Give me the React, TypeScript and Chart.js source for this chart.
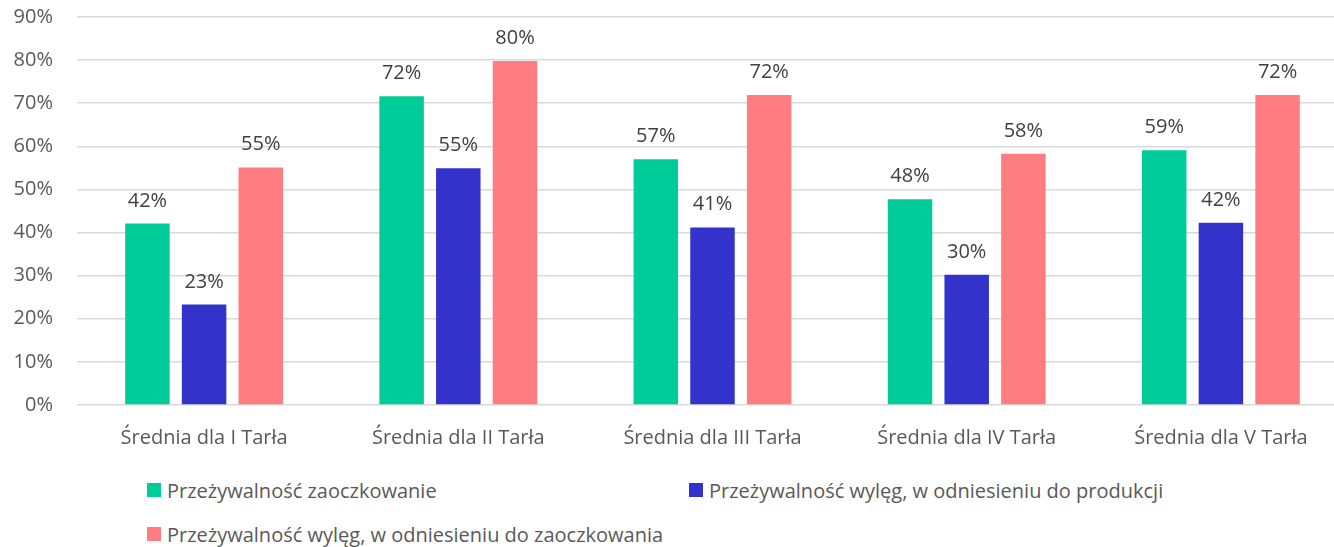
import React, { useEffect, useRef } from "react";
import { Chart, registerables } from "chart.js";

Chart.register(...registerables);

const categories = [
  "Średnia dla I Tarła",
  "Średnia dla II Tarła",
  "Średnia dla III Tarła",
  "Średnia dla IV Tarła",
  "Średnia dla V Tarła",
];
const seriesNames = [
  "Przeżywalność zaoczkowanie",
  "Przeżywalność wylęg, w odniesieniu do produkcji",
  "Przeżywalność wylęg, w odniesieniu do zaoczkowania",
];
const zaoczkowanie = [42.1, 71.6, 57.0, 47.7, 59.1];
const wylegProdukcja = [23.3, 54.9, 41.2, 30.2, 42.3];
const wylegZaoczkowanie = [55.1, 79.8, 71.9, 58.3, 71.9];
const seriesColors = ["#00CC99", "#3333CC", "#FF7C80"];
const yMin = 0;
const yMax = 90;
const yStep = 10;

const FONT = "'Open Sans', 'Noto Sans', sans-serif";

const dataLabelPlugin = {
  id: "dataLabels",
  afterDatasetsDraw(chart: any) {
    const ctx = chart.ctx;
    ctx.save();
    ctx.font = `20px ${FONT}`;
    ctx.fillStyle = "#404040";
    ctx.textAlign = "center";
    ctx.textBaseline = "alphabetic";
    chart.data.datasets.forEach((ds: any, i: number) => {
      const meta = chart.getDatasetMeta(i);
      meta.data.forEach((bar: any, j: number) => {
        const v = ds.data[j];
        ctx.fillText(Math.round(v) + "%", bar.x, bar.y - 17);
      });
    });
    ctx.restore();
  },
};

export default function App() {
  const canvasRef = useRef<HTMLCanvasElement | null>(null);

  useEffect(() => {
    if (!canvasRef.current) return;
    const series = [zaoczkowanie, wylegProdukcja, wylegZaoczkowanie];
    const chart = new Chart(canvasRef.current, {
      type: "bar",
      data: {
        labels: categories,
        datasets: series.map((d, i) => ({
          label: seriesNames[i],
          data: d,
          backgroundColor: seriesColors[i],
          borderWidth: 0,
          categoryPercentage: 0.669,
          barPercentage: 0.785,
        })),
      },
      options: {
        responsive: false,
        animation: false,
        devicePixelRatio: 1,
        layout: { padding: { top: 17, right: 12, bottom: 0, left: 0 } },
        plugins: {
          legend: { display: false },
          tooltip: { enabled: false },
          title: { display: false },
        },
        scales: {
          x: {
            grid: { display: false, drawTicks: false },
            border: { display: false },
            ticks: {
              color: "#595959",
              font: { family: FONT, size: 20 },
              padding: 21,
              maxRotation: 0,
            },
            afterFit: (scale: any) => {
              scale.height = 55;
            },
          },
          y: {
            min: yMin,
            max: yMax,
            grid: {
              color: "#D9D9D9",
              lineWidth: 1.5,
              drawTicks: true,
              tickLength: 24,
              tickColor: "rgba(0,0,0,0)",
            },
            border: { display: false },
            ticks: {
              stepSize: yStep,
              color: "#595959",
              font: { family: FONT, size: 20 },
              padding: 0,
              callback: (v: any) => v + "%",
            },
            afterFit: (scale: any) => {
              scale.width = 77;
            },
          },
        },
      },
      plugins: [dataLabelPlugin],
    });
    return () => chart.destroy();
  }, []);

  const legendItem = (i: number) => (
    <div
      key={i}
      style={{ display: "flex", alignItems: "center", height: 24, whiteSpace: "nowrap" }}
    >
      <span
        style={{
          display: "inline-block",
          width: 14,
          height: 14,
          background: seriesColors[i],
          marginRight: 6,
        }}
      />
      <span style={{ fontFamily: FONT, fontSize: 20, color: "#595959" }}>{seriesNames[i]}</span>
    </div>
  );

  return (
    <div
      style={{
        position: "fixed",
        left: 0,
        top: 0,
        width: 1334,
        height: 547,
        overflow: "hidden",
        background: "#ffffff",
      }}
    >
      <canvas
        ref={canvasRef}
        width={1360}
        height={460}
        style={{ position: "absolute", left: 0, top: 0, width: 1360, height: 460 }}
      />
      <div
        style={{
          position: "absolute",
          left: 147,
          top: 478,
          display: "grid",
          gridTemplateColumns: "542px 600px",
          rowGap: 20,
        }}
      >
        {legendItem(0)}
        {legendItem(1)}
        {legendItem(2)}
      </div>
    </div>
  );
}
